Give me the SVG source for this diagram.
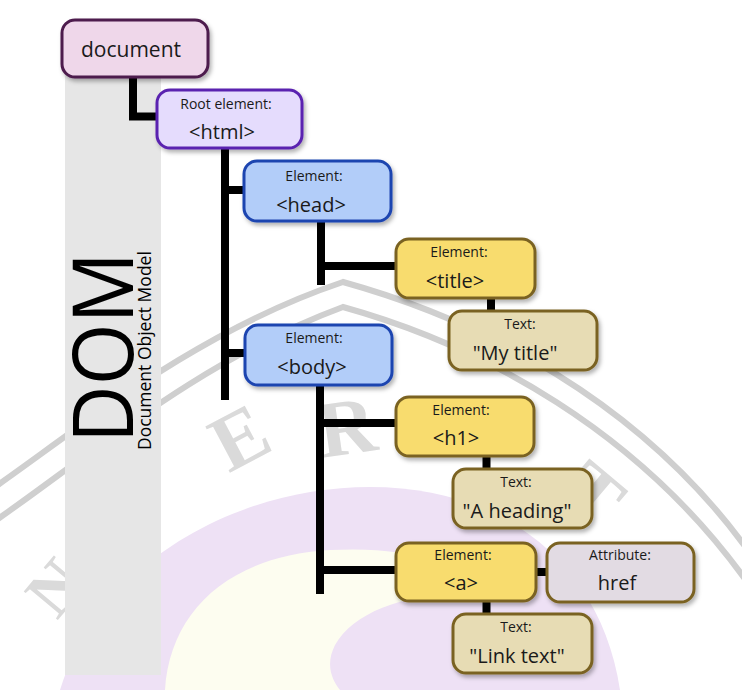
<svg xmlns="http://www.w3.org/2000/svg" width="742" height="690" viewBox="0 0 742 690">
<defs>
<filter id="sh" x="-10%" y="-10%" width="125%" height="130%">
<feDropShadow dx="2" dy="3" stdDeviation="2" flood-color="#000" flood-opacity="0.3"/>
</filter>
<style>
text{font-family:"Open Sans","Noto Sans","DejaVu Sans",sans-serif;fill:#1a1a1a;text-anchor:middle}
.s{font-size:14px}
.b{font-size:20px}
.box{stroke-width:3;filter:url(#sh)}
.doc{fill:#efd7ea;stroke:#4d1a4d}
.root{fill:#e5dcfd;stroke:#5a22b0}
.blue{fill:#b2cdf9;stroke:#1d44b0}
.yel{fill:#f8dc6e;stroke:#7a6220}
.txt{fill:#e7dcb4;stroke:#7a6220}
.attr{fill:#e2dbe3;stroke:#7a6220}
.con path{fill:none;stroke:#000;stroke-width:8;stroke-linejoin:miter}
.arc{fill:none;stroke:#cfcfcf;stroke-width:6}
.wm{font-family:"Liberation Serif",serif;font-weight:bold;font-size:80px;fill:#dadada}
</style>
</defs>
<rect width="742" height="690" fill="#fff"/>
<g id="watermark">
<path d="M60,690 C100,560 240,487 370,487 C500,487 600,560 620,690 Z" fill="#eee1f5"/>
<path d="M165,690 C170,610 230,556 330,550 C410,546 455,562 470,595 C410,592 355,610 335,645 C325,665 332,680 340,690 Z" fill="#fdfdf0"/>
<path class="arc" d="M-5,487 C90,420 200,330 343,282 C480,320 640,400 750,553"/>
<path class="arc" d="M-5,521 C90,455 200,360 343,307 C480,345 640,430 750,586"/>
<text class="wm" style="font-size:68px" transform="translate(56,588) rotate(-50)" x="0" y="22">N</text>
<text class="wm" transform="translate(240,438) rotate(-28)" x="0" y="26">E</text>
<text class="wm" transform="translate(347,428) rotate(-8)" x="0" y="26">R</text>
<text class="wm" transform="translate(592,495) rotate(40)" x="0" y="26">T</text>
</g>
<rect id="band" x="65" y="60" width="96" height="615" fill="#e6e6e6"/>
<g id="dom-label">
<text transform="translate(133,443) rotate(-90)" x="0" y="0" style="font-size:84px;text-anchor:start;fill:#000" textLength="191" lengthAdjust="spacingAndGlyphs">DOM</text>
<text transform="translate(151,450) rotate(-90)" x="0" y="0" style="font-size:17.5px;text-anchor:start;fill:#000">Document Object Model</text>
</g>
<g id="connectors" class="con">
<path d="M133,70 V116.5 H160"/>
<path d="M225,146 V400"/>
<path d="M225,190 H246"/>
<path d="M225,353 H247"/>
<path d="M321,219 V285"/>
<path d="M321,266 H398"/>
<path d="M491,296 V313"/>
<path d="M320,383 V594"/>
<path d="M320,423 H398"/>
<path d="M320,570 H398"/>
<path d="M486.5,455 V471"/>
<path d="M486.5,600 V616"/>
<path d="M534,572 H549"/>
</g>
<g id="document"><rect class="box doc" x="62" y="20" width="146" height="57" rx="13"/><text style="font-size:21px" x="131" y="57">document</text></g>
<g id="html"><rect class="box root" x="157" y="90" width="145" height="58" rx="13"/><text class="s" x="226" y="109">Root element:</text><text class="b" x="222" y="139">&lt;html&gt;</text></g>
<g id="head"><rect class="box blue" x="244" y="161" width="147" height="60" rx="13"/><text class="s" x="314" y="181">Element:</text><text class="b" x="311" y="212">&lt;head&gt;</text></g>
<g id="title"><rect class="box yel" x="396" y="239" width="139" height="59" rx="13"/><text class="s" x="459" y="257">Element:</text><text class="b" x="455" y="288">&lt;title&gt;</text></g>
<g id="text-mytitle"><rect class="box txt" x="449" y="311" width="148" height="59" rx="13"/><text class="s" x="520" y="329">Text:</text><text class="b" x="515" y="360">"My title"</text></g>
<g id="body"><rect class="box blue" x="245" y="325" width="147" height="60" rx="13"/><text class="s" x="314" y="343">Element:</text><text class="b" x="312" y="374">&lt;body&gt;</text></g>
<g id="h1"><rect class="box yel" x="396" y="397" width="138" height="59" rx="13"/><text class="s" x="461" y="415">Element:</text><text class="b" x="456" y="445">&lt;h1&gt;</text></g>
<g id="text-heading"><rect class="box txt" x="453" y="469" width="139" height="59" rx="13"/><text class="s" x="516" y="487">Text:</text><text class="b" x="517" y="518">"A heading"</text></g>
<g id="a"><rect class="box yel" x="396" y="543" width="140" height="58" rx="13"/><text class="s" x="463" y="560">Element:</text><text class="b" x="461" y="590">&lt;a&gt;</text></g>
<g id="attr-href"><rect class="box attr" x="547" y="543" width="147" height="59" rx="13"/><text class="s" x="620" y="560">Attribute:</text><text class="b" x="617" y="590">href</text></g>
<g id="text-link"><rect class="box txt" x="453" y="614" width="139" height="59" rx="13"/><text class="s" x="516" y="632">Text:</text><text class="b" x="517" y="663">"Link text"</text></g>
</svg>
